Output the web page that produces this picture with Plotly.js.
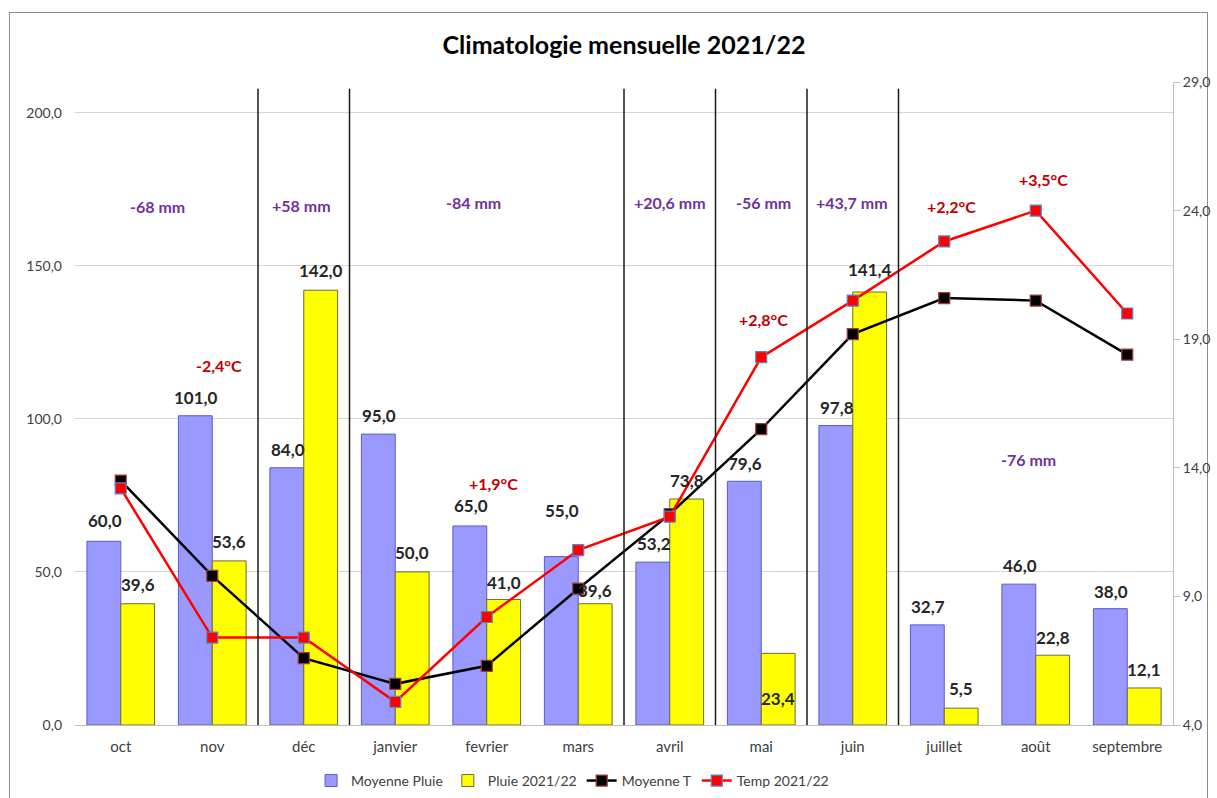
<!DOCTYPE html>
<html>
<head>
<meta charset="utf-8">
<script src="https://cdn.plot.ly/plotly-3.0.1.min.js"></script>
<style>
  html, body { margin: 0; padding: 0; background: #ffffff; }
  #frame { position: absolute; left: 9px; top: 12px; width: 1199px; height: 800px; border: 1.5px solid #8c8c8c; box-sizing: border-box; }
  #chart { position: absolute; left: 0; top: 0; width: 1217px; height: 798px; }
</style>
</head>
<body>
<div id="frame"></div>
<div id="chart"></div>
<script>
// ---- data ----
const months = ["oct", "nov", "déc", "janvier", "fevrier", "mars", "avril", "mai", "juin", "juillet", "août", "septembre"];
const moyennePluie = [60.0, 101.0, 84.0, 95.0, 65.0, 55.0, 53.2, 79.6, 97.8, 32.7, 46.0, 38.0];
const pluie2122 = [39.6, 53.6, 142.0, 50.0, 41.0, 39.6, 73.8, 23.4, 141.4, 5.5, 22.8, 12.1];
const moyenneT = [13.5, 9.8, 6.6, 5.6, 6.3, 9.3, 12.2, 15.5, 19.2, 20.6, 20.5, 18.4];
const temp2122 = [13.2, 7.4, 7.4, 4.9, 8.2, 10.8, 12.1, 18.3, 20.5, 22.8, 24.0, 20.0];

// period boundaries (between categories) and rain difference notes
const periodBounds = [1.5, 2.5, 5.5, 6.5, 7.5, 8.5];
const rainNotes = ["-68 mm", "+58 mm", "-84 mm", "+20,6 mm", "-56 mm", "+43,7 mm", "-76 mm"];
const rainNoteX = [0.40, 1.97, 3.86, 6.0, 7.02, 7.99, 9.92];
const rainNoteY = [169.3, 169.7, 170.6, 170.6, 170.6, 170.6, 86.8];
const tempNotes = ["-2,4°C", "+1,9°C", "+2,8°C", "+2,2°C", "+3,5°C"];
const tempNoteX = [1.07, 4.07, 7.02, 9.08, 10.09];
const tempNoteY = [117.5, 79.0, 132.5, 169.3, 178.1];

// label vertical offsets (px, up positive) for the bar value labels
const moyLabelShift = [21, 18, 18, 19, 20, 46, 19, 18, 18, 18, 19, 17];
const pluieLabelShift = [19, 19, 20, 19, 17, 13, 19, -45, 23, 20, 18, 18];

const fontFamily = "Lato, 'Open Sans', 'Liberation Sans', sans-serif";
const fmt = v => v.toFixed(1).replace(".", ",");

const traces = [
  {
    type: "bar", name: "Moyenne Pluie", x: months, y: moyennePluie,
    marker: { color: "#9999FF", line: { color: "#5a5ad0", width: 1 } },
    yaxis: "y", offsetgroup: "a"
  },
  {
    type: "bar", name: "Pluie 2021/22", x: months, y: pluie2122,
    marker: { color: "#FFFF00", line: { color: "#6b6b3a", width: 1 } },
    yaxis: "y", offsetgroup: "b"
  },
  {
    type: "scatter", mode: "lines+markers", name: "Moyenne T", x: months, y: moyenneT,
    line: { color: "#000000", width: 2.5 },
    marker: { symbol: "square", size: 11, color: "#000000", line: { color: "#a33a3a", width: 1.2 } },
    yaxis: "y2"
  },
  {
    type: "scatter", mode: "lines+markers", name: "Temp 2021/22", x: months, y: temp2122,
    line: { color: "#FF0000", width: 2.5 },
    marker: { symbol: "square", size: 11, color: "#FF0000", line: { color: "#5b84c4", width: 1.2 } },
    yaxis: "y2"
  }
];

const annotations = [];
months.forEach((m, i) => {
  annotations.push({
    x: i, y: moyennePluie[i], xref: "x", yref: "y", text: fmt(moyennePluie[i]),
    showarrow: false, xshift: -16, yshift: moyLabelShift[i], yanchor: "middle",
    font: { family: fontFamily, size: 17, color: "#262626", weight: "bold" }
  });
  annotations.push({
    x: i, y: pluie2122[i], xref: "x", yref: "y", text: fmt(pluie2122[i]),
    showarrow: false, xshift: 17, yshift: pluieLabelShift[i], yanchor: "middle",
    font: { family: fontFamily, size: 17, color: "#262626", weight: "bold" }
  });
});
rainNotes.forEach((t, i) => {
  annotations.push({
    x: rainNoteX[i], y: rainNoteY[i], xref: "x", yref: "y", text: t, showarrow: false,
    font: { family: fontFamily, size: 16, color: "#7030A0", weight: "bold" }
  });
});
tempNotes.forEach((t, i) => {
  annotations.push({
    x: tempNoteX[i], y: tempNoteY[i], xref: "x", yref: "y", text: t, showarrow: false,
    font: { family: fontFamily, size: 16, color: "#C00000", weight: "bold" }
  });
});

const shapes = periodBounds.map(b => ({
  type: "line", xref: "x", yref: "y", x0: b, x1: b, y0: -0.5, y1: 207.8,
  line: { color: "#1a1a1a", width: 1.5 }
}));

const layout = {
  width: 1217, height: 798,
  margin: { l: 75, r: 44, t: 82, b: 73, autoexpand: false },
  paper_bgcolor: "rgba(0,0,0,0)", plot_bgcolor: "rgba(0,0,0,0)",
  separators: ", ",
  font: { family: fontFamily, size: 13, color: "#595959" },
  title: {
    text: "<b>Climatologie mensuelle 2021/22</b>",
    font: { family: fontFamily, size: 25, color: "#000000" },
    x: 0.5, xref: "paper", y: 1 - 45 / 798, yref: "container", yanchor: "middle"
  },
  barmode: "group", bargap: 0.26, bargroupgap: 0,
  xaxis: {
    type: "category", range: [-0.5, 11.5], showgrid: false, showline: true, linecolor: "#bfbfbf", linewidth: 1,
    ticks: "", ticklabelstandoff: 8, tickfont: { size: 15, color: "#404040" }, zeroline: false,
    automargin: false
  },
  yaxis: {
    range: [0, 210], tickvals: [0, 50, 100, 150, 200], tickformat: ".1f",
    showgrid: true, gridcolor: "#d4d4d4", gridwidth: 1, zeroline: false, showline: false,
    ticklabelstandoff: 12, tickfont: { size: 14, color: "#404040" }, automargin: false
  },
  yaxis2: {
    overlaying: "y", side: "right", range: [4, 29], tickvals: [4, 9, 14, 19, 24, 29], tickformat: ".1f",
    showgrid: false, zeroline: false, showline: true, linecolor: "#bfbfbf", linewidth: 1,
    ticks: "outside", ticklen: 6, tickcolor: "#bfbfbf", tickfont: { size: 14, color: "#404040" },
    automargin: false
  },
  legend: {
    orientation: "h", x: 0.215, xanchor: "left", y: -0.087, yanchor: "middle",
    font: { size: 14, color: "#404040" }, traceorder: "normal", itemwidth: 30,
    bgcolor: "rgba(0,0,0,0)"
  },
  annotations: annotations,
  shapes: shapes,
  showlegend: true
};

Plotly.newPlot("chart", traces, layout, { displayModeBar: false, staticPlot: true });
</script>
</body>
</html>
